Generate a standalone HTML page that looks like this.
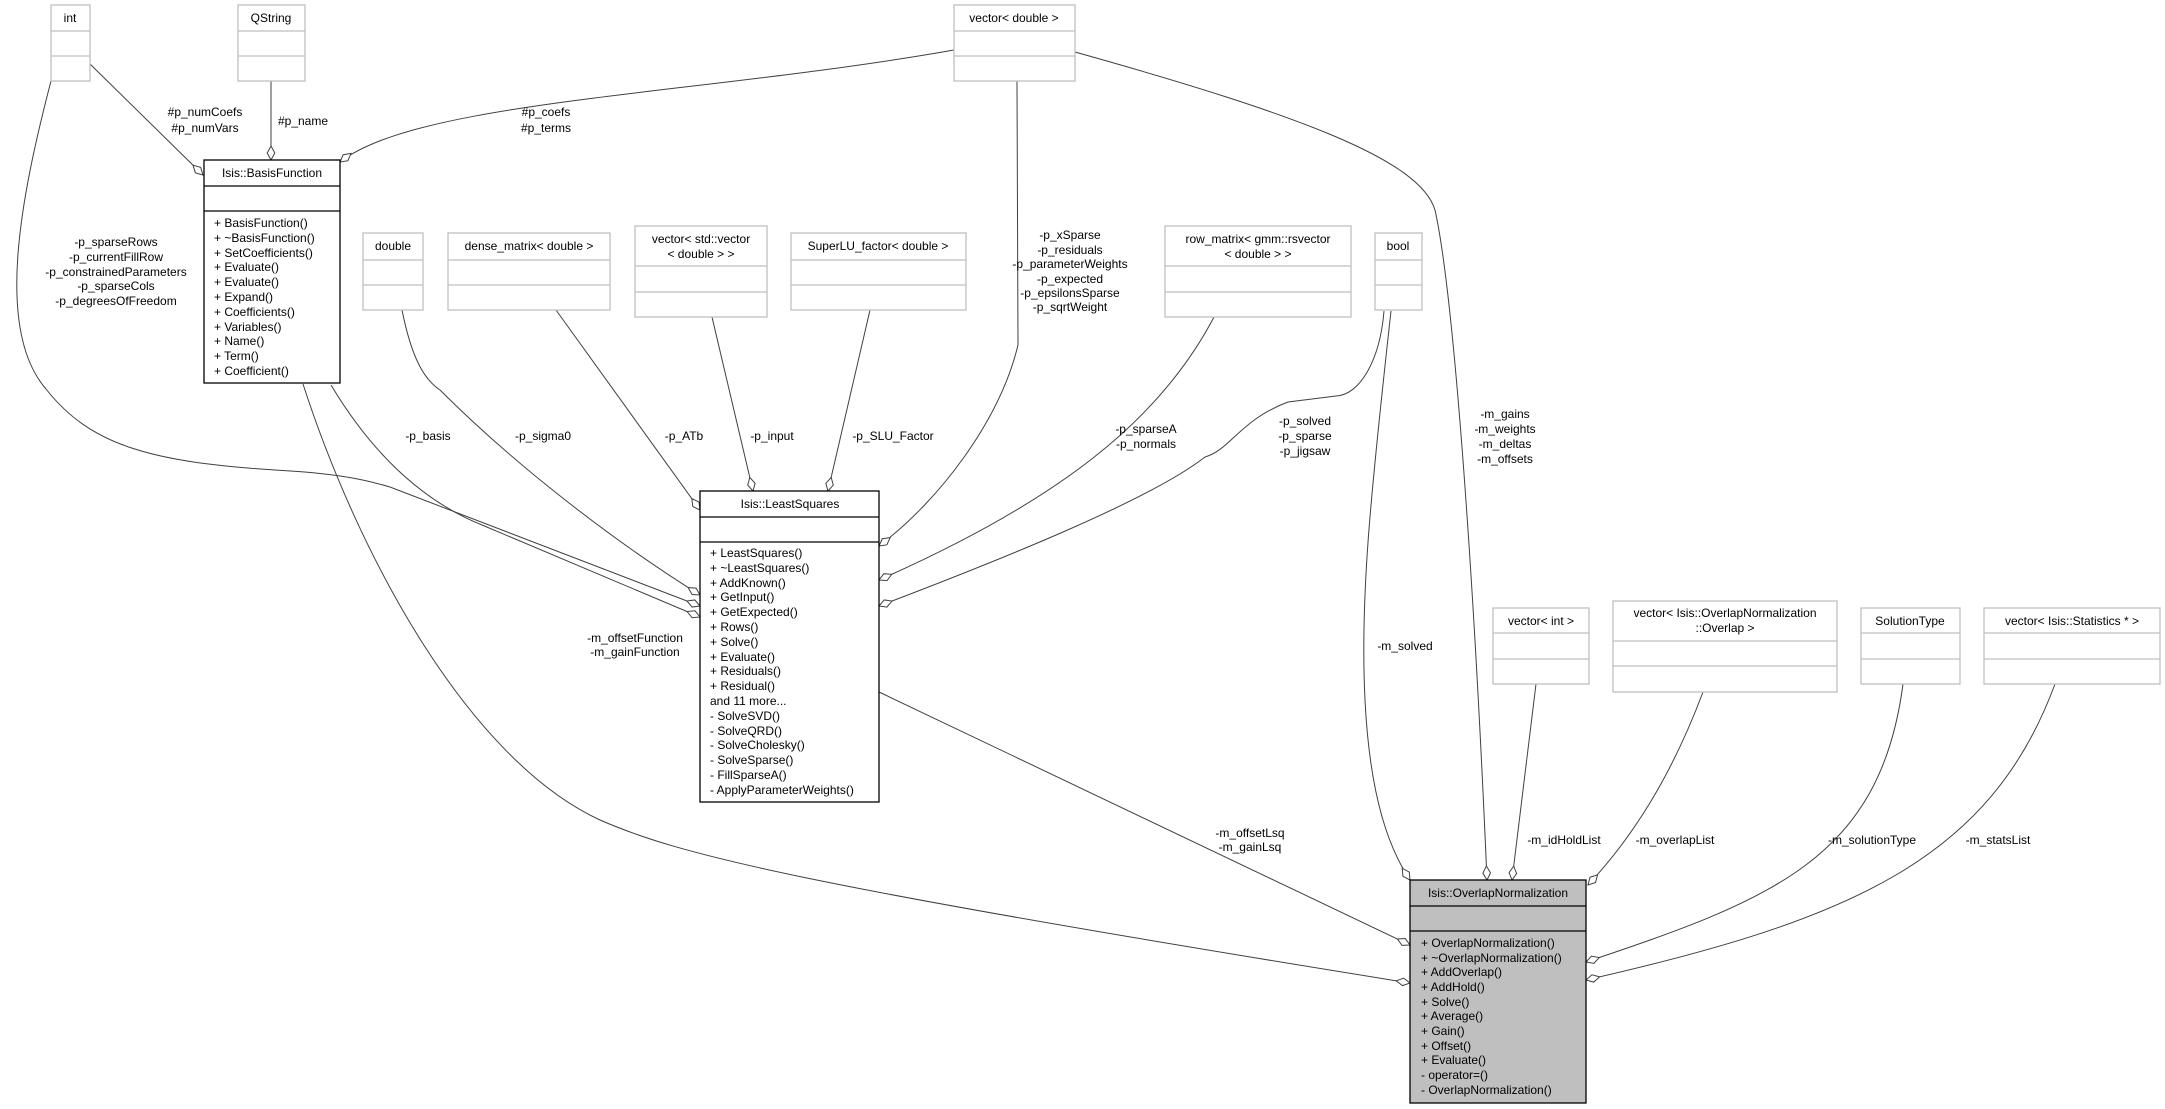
<!DOCTYPE html>
<html><head><meta charset="utf-8"><style>
html,body{margin:0;padding:0;background:#fff;}
svg{display:block;}
text{font-family:"Liberation Sans",sans-serif;font-size:12px;fill:#000;}
.g{fill:#fff;stroke:#bfbfbf;stroke-width:1.3;}
.k{fill:#fff;stroke:#000;stroke-width:1.3;}
.e{fill:none;stroke:#404040;stroke-width:1;}
.c{text-anchor:middle;}
</style></head><body>
<svg width="2165" height="1109" viewBox="0 0 2165 1109" xmlns="http://www.w3.org/2000/svg">
<defs>
<marker id="d" viewBox="-15 -5 16 10" refX="0" refY="0" markerWidth="16" markerHeight="10" markerUnits="userSpaceOnUse" orient="auto">
<polygon points="0,0 -7,-3.8 -14,0 -7,3.8" fill="#fff" stroke="#404040" stroke-width="1"/>
</marker>
</defs>

<!-- edges -->
<g class="e" marker-end="url(#d)">
<path d="M90,64 L203,175"/>
<path d="M271,81 L271,160"/>
<path d="M954,50 C700,95 420,100 340,162"/>
<path d="M51,81 C20,200 -5,330 46,389 C90,445 150,462 275,470 C330,473 360,478 390,487 L700,606"/>
<path d="M331,385 C370,450 420,500 482,525 L700,617"/>
<path d="M402,310 C412,360 425,380 440,390 C520,470 620,545 700,595"/>
<path d="M556,310 L700,510"/>
<path d="M712,317 L753,491"/>
<path d="M870,310 L828,491"/>
<path d="M1017,81 C1017,200 1018,320 1018,345 C1000,420 940,500 879,546"/>
<path d="M1214,317 C1160,420 1060,500 879,580"/>
<path d="M1384,311 C1380,360 1360,395 1336,396 L1288,402 C1240,420 1230,450 1205,457 C1150,500 1000,560 879,606"/>
<path d="M1391,311 C1370,500 1360,600 1365,700 C1370,800 1390,850 1410,880"/>
<path d="M1075,52 C1300,115 1420,160 1435,210 C1455,300 1475,600 1487,880"/>
<path d="M1536,684 L1512,880"/>
<path d="M1703,692 C1670,780 1630,840 1588,885"/>
<path d="M1903,684 C1880,860 1770,900 1586,962"/>
<path d="M2055,684 C1990,860 1850,920 1586,980"/>
<path d="M879,692 L1410,945"/>
<path d="M303,384 C360,560 470,760 600,820 C680,855 800,885 1410,983"/>
</g>

<!-- gray boxes -->
<g>
<rect class="g" x="51" y="5" width="39" height="76"/><line class="g" x1="51" y1="31" x2="90" y2="31"/><line class="g" x1="51" y1="56" x2="90" y2="56"/>
<text x="70" y="22" class="c">int</text>
<rect class="g" x="238" y="5" width="67" height="76"/><line class="g" x1="238" y1="31" x2="305" y2="31"/><line class="g" x1="238" y1="56" x2="305" y2="56"/>
<text x="271" y="22" class="c">QString</text>
<rect class="g" x="954" y="5" width="121" height="76"/><line class="g" x1="954" y1="31" x2="1075" y2="31"/><line class="g" x1="954" y1="56" x2="1075" y2="56"/>
<text x="1014" y="22" class="c">vector&lt; double &gt;</text>

<rect class="g" x="363" y="233" width="60" height="77"/><line class="g" x1="363" y1="260" x2="423" y2="260"/><line class="g" x1="363" y1="285" x2="423" y2="285"/>
<text x="393" y="250" class="c">double</text>
<rect class="g" x="448" y="233" width="162" height="77"/><line class="g" x1="448" y1="260" x2="610" y2="260"/><line class="g" x1="448" y1="285" x2="610" y2="285"/>
<text x="529" y="250" class="c">dense_matrix&lt; double &gt;</text>
<rect class="g" x="635" y="226" width="132" height="91"/><line class="g" x1="635" y1="266" x2="767" y2="266"/><line class="g" x1="635" y1="292" x2="767" y2="292"/>
<text x="701" y="243" class="c">vector&lt; std::vector</text><text x="701" y="258" class="c">&lt; double &gt; &gt;</text>
<rect class="g" x="791" y="233" width="175" height="77"/><line class="g" x1="791" y1="260" x2="966" y2="260"/><line class="g" x1="791" y1="285" x2="966" y2="285"/>
<text x="878" y="250" class="c">SuperLU_factor&lt; double &gt;</text>
<rect class="g" x="1165" y="226" width="186" height="91"/><line class="g" x1="1165" y1="266" x2="1351" y2="266"/><line class="g" x1="1165" y1="292" x2="1351" y2="292"/>
<text x="1258" y="243" class="c">row_matrix&lt; gmm::rsvector</text><text x="1258" y="258" class="c">&lt; double &gt; &gt;</text>
<rect class="g" x="1375" y="233" width="47" height="77"/><line class="g" x1="1375" y1="260" x2="1422" y2="260"/><line class="g" x1="1375" y1="285" x2="1422" y2="285"/>
<text x="1398" y="250" class="c">bool</text>

<rect class="g" x="1493" y="608" width="96" height="76"/><line class="g" x1="1493" y1="633" x2="1589" y2="633"/><line class="g" x1="1493" y1="659" x2="1589" y2="659"/>
<text x="1541" y="625" class="c">vector&lt; int &gt;</text>
<rect class="g" x="1613" y="601" width="224" height="91"/><line class="g" x1="1613" y1="641" x2="1837" y2="641"/><line class="g" x1="1613" y1="666" x2="1837" y2="666"/>
<text x="1725" y="617" class="c">vector&lt; Isis::OverlapNormalization</text><text x="1725" y="632" class="c">::Overlap &gt;</text>
<rect class="g" x="1861" y="608" width="99" height="76"/><line class="g" x1="1861" y1="633" x2="1960" y2="633"/><line class="g" x1="1861" y1="659" x2="1960" y2="659"/>
<text x="1910" y="625" class="c">SolutionType</text>
<rect class="g" x="1984" y="608" width="176" height="76"/><line class="g" x1="1984" y1="633" x2="2160" y2="633"/><line class="g" x1="1984" y1="659" x2="2160" y2="659"/>
<text x="2072" y="625" class="c">vector&lt; Isis::Statistics * &gt;</text>
</g>

<!-- BasisFunction -->
<rect class="k" x="204" y="160" width="136" height="223"/>
<line class="k" x1="204" y1="186" x2="340" y2="186"/><line class="k" x1="204" y1="211" x2="340" y2="211"/>
<text x="272" y="177" class="c">Isis::BasisFunction</text>
<g>
<text x="214" y="227">+ BasisFunction()</text>
<text x="214" y="242">+ ~BasisFunction()</text>
<text x="214" y="257">+ SetCoefficients()</text>
<text x="214" y="271">+ Evaluate()</text>
<text x="214" y="286">+ Evaluate()</text>
<text x="214" y="301">+ Expand()</text>
<text x="214" y="316">+ Coefficients()</text>
<text x="214" y="331">+ Variables()</text>
<text x="214" y="345">+ Name()</text>
<text x="214" y="360">+ Term()</text>
<text x="214" y="375">+ Coefficient()</text>
</g>

<!-- LeastSquares -->
<rect class="k" x="700" y="491" width="179" height="311"/>
<line class="k" x1="700" y1="517" x2="879" y2="517"/><line class="k" x1="700" y1="542" x2="879" y2="542"/>
<text x="790" y="508" class="c">Isis::LeastSquares</text>
<g>
<text x="710" y="557">+ LeastSquares()</text>
<text x="710" y="572">+ ~LeastSquares()</text>
<text x="710" y="587">+ AddKnown()</text>
<text x="710" y="601">+ GetInput()</text>
<text x="710" y="616">+ GetExpected()</text>
<text x="710" y="631">+ Rows()</text>
<text x="710" y="646">+ Solve()</text>
<text x="710" y="661">+ Evaluate()</text>
<text x="710" y="675">+ Residuals()</text>
<text x="710" y="690">+ Residual()</text>
<text x="710" y="705">and 11 more...</text>
<text x="710" y="720">- SolveSVD()</text>
<text x="710" y="735">- SolveQRD()</text>
<text x="710" y="749">- SolveCholesky()</text>
<text x="710" y="764">- SolveSparse()</text>
<text x="710" y="779">- FillSparseA()</text>
<text x="710" y="794">- ApplyParameterWeights()</text>
</g>

<!-- OverlapNormalization -->
<rect x="1410" y="880" width="176" height="223" fill="#bfbfbf" stroke="#000" stroke-width="1.3"/>
<line class="k" x1="1410" y1="906" x2="1586" y2="906"/><line class="k" x1="1410" y1="931" x2="1586" y2="931"/>
<text x="1498" y="897" class="c">Isis::OverlapNormalization</text>
<g>
<text x="1421" y="947">+ OverlapNormalization()</text>
<text x="1421" y="962">+ ~OverlapNormalization()</text>
<text x="1421" y="976">+ AddOverlap()</text>
<text x="1421" y="991">+ AddHold()</text>
<text x="1421" y="1006">+ Solve()</text>
<text x="1421" y="1020">+ Average()</text>
<text x="1421" y="1035">+ Gain()</text>
<text x="1421" y="1050">+ Offset()</text>
<text x="1421" y="1064">+ Evaluate()</text>
<text x="1421" y="1079">- operator=()</text>
<text x="1421" y="1094">- OverlapNormalization()</text>
</g>

<!-- labels -->
<g class="c">
<text x="205" y="116">#p_numCoefs</text><text x="205" y="132">#p_numVars</text>
<text x="303" y="125">#p_name</text>
<text x="546" y="116">#p_coefs</text><text x="546" y="132">#p_terms</text>
<text x="116" y="246">-p_sparseRows</text>
<text x="116" y="261">-p_currentFillRow</text>
<text x="116" y="276">-p_constrainedParameters</text>
<text x="116" y="290">-p_sparseCols</text>
<text x="116" y="305">-p_degreesOfFreedom</text>
<text x="428" y="440">-p_basis</text>
<text x="543" y="440">-p_sigma0</text>
<text x="684" y="440">-p_ATb</text>
<text x="772" y="440">-p_input</text>
<text x="893" y="440">-p_SLU_Factor</text>
<text x="1070" y="239">-p_xSparse</text>
<text x="1070" y="254">-p_residuals</text>
<text x="1070" y="268">-p_parameterWeights</text>
<text x="1070" y="283">-p_expected</text>
<text x="1070" y="297">-p_epsilonsSparse</text>
<text x="1070" y="311">-p_sqrtWeight</text>
<text x="1146" y="433">-p_sparseA</text><text x="1146" y="448">-p_normals</text>
<text x="1305" y="425">-p_solved</text><text x="1305" y="440">-p_sparse</text><text x="1305" y="455">-p_jigsaw</text>
<text x="1505" y="418">-m_gains</text><text x="1505" y="433">-m_weights</text><text x="1505" y="448">-m_deltas</text><text x="1505" y="463">-m_offsets</text>
<text x="635" y="642">-m_offsetFunction</text><text x="635" y="656">-m_gainFunction</text>
<text x="1250" y="837">-m_offsetLsq</text><text x="1250" y="851">-m_gainLsq</text>
<text x="1405" y="650">-m_solved</text>
<text x="1564" y="844">-m_idHoldList</text>
<text x="1675" y="844">-m_overlapList</text>
<text x="1872" y="844">-m_solutionType</text>
<text x="1998" y="844">-m_statsList</text>
</g>
</svg>
</body></html>
